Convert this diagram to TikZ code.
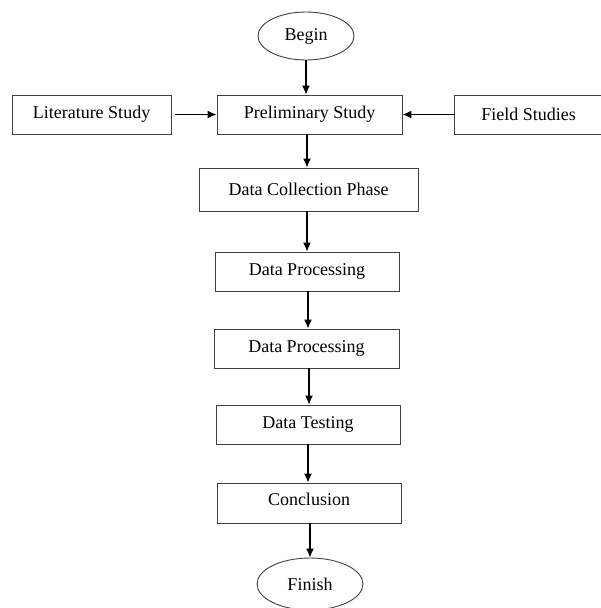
\documentclass[tikz,border=0pt]{standalone}
\usepackage{fontspec}
\setmainfont{Liberation Serif}
\usetikzlibrary{arrows.meta}
\usetikzlibrary{shapes.geometric}

\tikzset{
    stagebox/.style = {draw = black!75, line width = 0.9pt, rectangle, minimum height = 39pt,
        inner sep = 0pt, font = \fontsize{18}{21}\selectfont},
    endpoint/.style = {draw = black!75, line width = 0.9pt, ellipse, inner sep = 0pt,
        font = \fontsize{18}{21}\selectfont},
    flow/.style = {-{Latex[length = 9pt, width = 8pt]}, line width = 1.3pt, black}
}

\begin{document}
\begin{tikzpicture}[x = 1pt, y = -1pt]
    \useasboundingbox (0,0) rectangle (601,608);

    % start and top row
    \node [endpoint, minimum width = 96pt, minimum height = 48pt] (begin) at (306, 36) {Begin};
    \node [stagebox, minimum width = 185pt] (prelim) at (309.5, 114.5) {Preliminary Study};
    \node [stagebox, minimum width = 159pt] (lit) at (91.5, 114.5) {Literature Study};
    \node [stagebox, minimum width = 149pt] (field) at (528.5, 114.5) {Field Studies};

    % the main column
    \node [stagebox, minimum width = 219pt, minimum height = 43pt] (collect) at (308.5, 189.5) {Data Collection Phase};
    \node [stagebox, minimum width = 184pt] (proca) at (307, 271.5) {Data Processing};
    \node [stagebox, minimum width = 185pt] (procb) at (306.5, 348.5) {Data Processing};
    \node [stagebox, minimum width = 184pt] (test) at (308, 424.5) {Data Testing};
    \node [stagebox, minimum width = 184pt, minimum height = 40pt, text depth = 7pt] (concl) at (309, 503) {Conclusion};
    \node [endpoint, minimum width = 106pt, minimum height = 52pt] (finish) at (310, 584) {Finish};

    % arrows
    \draw [flow] (begin.south) -- (begin.south |- prelim.north);
    \draw [flow] ([xshift = 4pt]lit.east) -- (prelim.west);
    \draw [flow] (field.west) -- (prelim.east);
    \draw [flow] ([xshift = -2.5pt]prelim.south) -- ([xshift = -2.5pt]prelim.south |- collect.north);
    \draw [flow] ([xshift = -1.5pt]collect.south) -- ([xshift = -1.5pt]collect.south |- proca.north);
    \draw [flow] ([xshift = 1pt]proca.south) -- ([xshift = 1pt]proca.south |- procb.north);
    \draw [flow] ([xshift = 2.5pt]procb.south) -- ([xshift = 2.5pt]procb.south |- test.north);
    \draw [flow] (test.south) -- (test.south |- concl.north);
    \draw [flow] ([xshift = 1pt]concl.south) -- ([xshift = 1pt]concl.south |- finish.north);
\end{tikzpicture}
\end{document}
